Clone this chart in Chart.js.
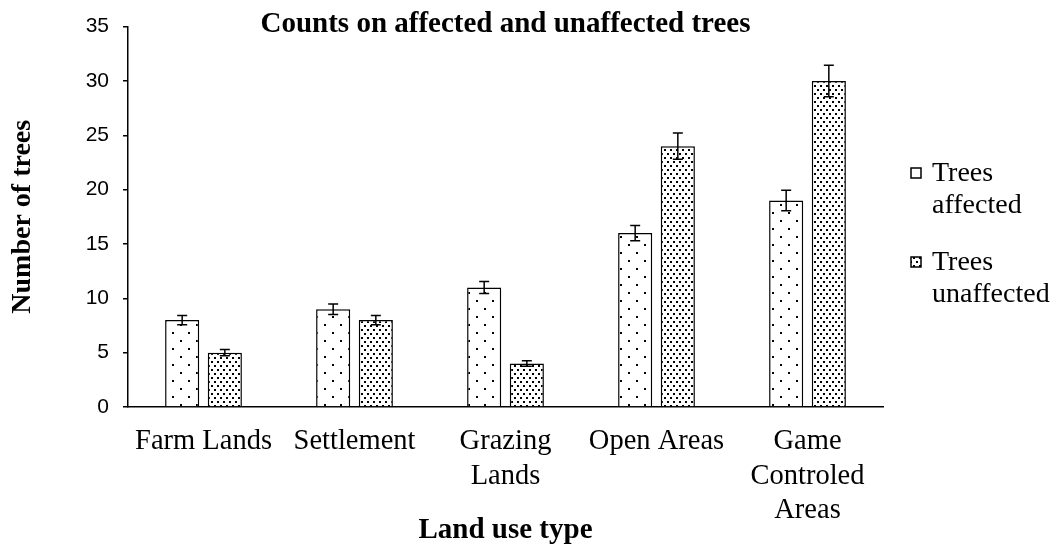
<!DOCTYPE html>
<html lang="en">
<head>
<meta charset="UTF-8">
<title>Counts on affected and unaffected trees</title>
<style>
  * { margin: 0; padding: 0; box-sizing: border-box; }
  body { background: #fff; overflow: hidden; }
  #wrap { position: relative; width: 1053px; height: 548px; }
</style>
</head>
<body>
<div id="wrap"><canvas id="treeChart"></canvas></div>

<script src="https://cdn.jsdelivr.net/npm/chart.js"></script>
<script>
// data
const landUse = [['Farm Lands'], ['Settlement'], ['Grazing', 'Lands'], ['Open Areas'], ['Game', 'Controled', 'Areas']];
const affected = [8, 9, 11, 16, 19];
const affectedErr = [0.43, 0.48, 0.55, 0.7, 0.95];
const unaffected = [5, 8, 4, 24, 30];
const unaffectedErr = [0.28, 0.43, 0.25, 1.2, 1.45];
const seriesNames = [['Trees', 'affected'], ['Trees', 'unaffected']];
const yMax = 35;
const yStep = 5;

const serif = "'Liberation Serif', 'Times New Roman', serif";
const sans = "'Liberation Sans', Arial, sans-serif";

// dotted fills like the Excel pattern fills
function dotPattern(w, h, dots) {
    const c = document.createElement('canvas');
    c.width = w;
    c.height = h;
    const g = c.getContext('2d');
    g.fillStyle = '#fff';
    g.fillRect(0, 0, w, h);
    g.fillStyle = '#000';
    dots.forEach(d => g.fillRect(d[0], d[1], 2, 2));
    return g.createPattern(c, 'repeat');
}
const sparseDots = dotPattern(16, 16, [[4, 4], [12, 12]]);
const denseDots = dotPattern(6, 8, [[1, 1], [4, 5]]);

const errorBars = {
    id: 'errorBars',
    afterDatasetsDraw(chart) {
        const ctx = chart.ctx;
        const y = chart.scales.y;
        ctx.save();
        ctx.strokeStyle = '#000';
        ctx.lineWidth = 1.5;
        chart.data.datasets.forEach((ds, i) => {
            const meta = chart.getDatasetMeta(i);
            meta.data.forEach((bar, j) => {
                const top = y.getPixelForValue(ds.data[j] + ds.errors[j]);
                const bot = y.getPixelForValue(ds.data[j] - ds.errors[j]);
                ctx.beginPath();
                ctx.moveTo(bar.x, top); ctx.lineTo(bar.x, bot);
                ctx.moveTo(bar.x - 5, top); ctx.lineTo(bar.x + 5, top);
                ctx.moveTo(bar.x - 5, bot); ctx.lineTo(bar.x + 5, bot);
                ctx.stroke();
            });
        });
        ctx.restore();
    }
};

// title over the plot and the two-line legend on the right
const extras = {
    id: 'extras',
    afterDraw(chart) {
        const ctx = chart.ctx;
        const area = chart.chartArea;
        ctx.save();
        ctx.fillStyle = '#000';
        ctx.textAlign = 'center';
        ctx.textBaseline = 'middle';
        ctx.font = 'bold 29px ' + serif;
        ctx.fillText('Counts on affected and unaffected trees', (area.left + area.right) / 2, 25);

        ctx.font = '28px ' + serif;
        ctx.textAlign = 'left';
        const legendTop = [168, 257];
        chart.data.datasets.forEach((ds, i) => {
            const by = legendTop[i];
            ctx.fillStyle = ds.backgroundColor;
            ctx.fillRect(911, by, 10, 10);
            ctx.strokeStyle = '#000';
            ctx.lineWidth = 1.5;
            ctx.strokeRect(911, by, 10, 10);
            ctx.fillStyle = '#000';
            ds.label.forEach((line, k) => ctx.fillText(line, 932, by + 6 + k * 32));
        });
        ctx.restore();
    }
};

new Chart(document.getElementById('treeChart'), {
    type: 'bar',
    data: {
        labels: landUse,
        datasets: [{
            label: seriesNames[0],
            data: affected,
            errors: affectedErr,
            backgroundColor: sparseDots,
            borderColor: '#000',
            borderWidth: 1.5
        }, {
            label: seriesNames[1],
            data: unaffected,
            errors: unaffectedErr,
            backgroundColor: denseDots,
            borderColor: '#000',
            borderWidth: 1.5
        }]
    },
    options: {
        responsive: true,
        maintainAspectRatio: false,
        animation: false,
        datasets: { bar: { categoryPercentage: 0.565, barPercentage: 0.8 } },
        layout: { padding: { top: 19, right: 170, bottom: 0, left: 0 } },
        plugins: {
            legend: { display: false },
            tooltip: { enabled: false }
        },
        scales: {
            x: {
                grid: { drawOnChartArea: false, drawTicks: false },
                border: { color: '#000', width: 1.5 },
                ticks: {
                    color: '#000',
                    padding: 17,
                    maxRotation: 0,
                    autoSkip: false,
                    font: { family: serif, size: 28.5, lineHeight: 1.22 }
                },
                title: {
                    display: true,
                    text: 'Land use type',
                    color: '#000',
                    padding: { top: 0, bottom: 0 },
                    font: { family: serif, size: 29, weight: 'bold', lineHeight: 1.2 }
                },
                afterFit(scale) { scale.height = 141; }
            },
            y: {
                min: 0,
                max: yMax,
                grid: { drawOnChartArea: false, drawTicks: true, tickLength: 5, color: '#000', lineWidth: 1.5 },
                border: { color: '#000', width: 1.5 },
                ticks: {
                    stepSize: yStep,
                    color: '#000',
                    padding: 14,
                    font: { family: sans, size: 21 }
                },
                title: {
                    display: true,
                    text: 'Number of trees',
                    color: '#000',
                    padding: { top: 6, bottom: 0 },
                    font: { family: serif, size: 28, weight: 'bold', lineHeight: 1.2 }
                },
                afterFit(scale) { scale.width = 128; }
            }
        }
    },
    plugins: [errorBars, extras]
});
</script>
</body>
</html>
